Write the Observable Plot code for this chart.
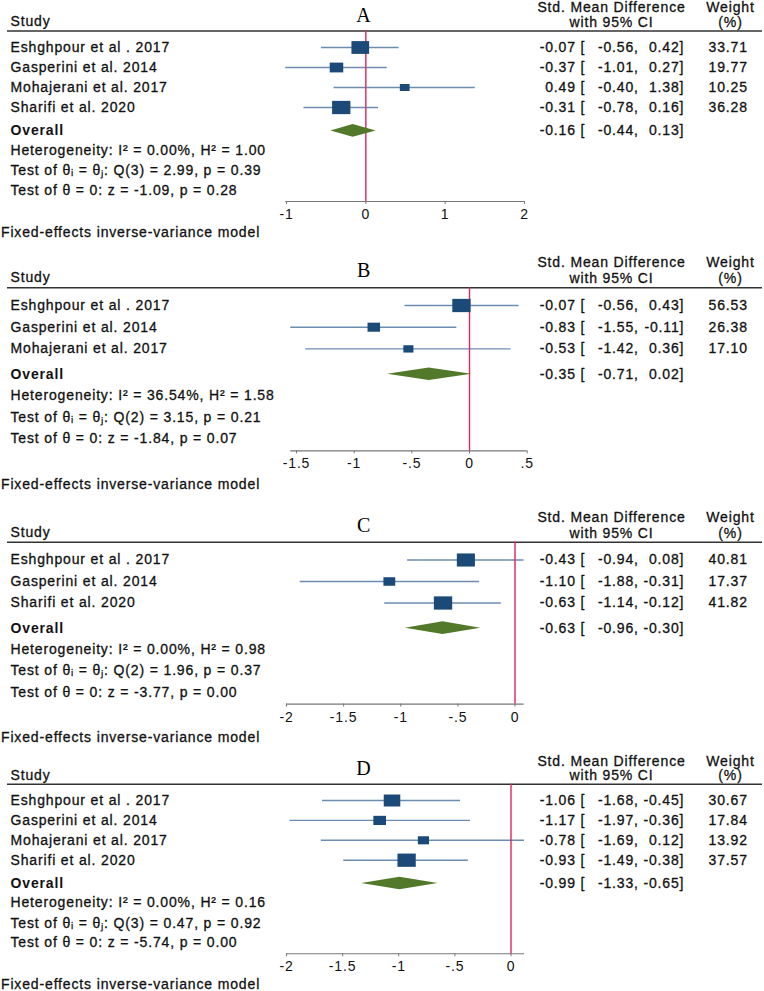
<!DOCTYPE html>
<html>
<head>
<meta charset="utf-8">
<script src="https://cdn.jsdelivr.net/npm/d3@7"></script>
<script src="https://cdn.jsdelivr.net/npm/@observablehq/plot@0.6"></script>
<style>
  body { margin: 0; background: #fff; }
  #chart { width: 764px; }
  #chart svg { display: block; }
</style>
</head>
<body>
<div id="chart"></div>
<script>
// ---------- Panel A ----------
const studiesA = ["Eshghpour et al . 2017", "Gasperini et al. 2014", "Mohajerani et al. 2017", "Sharifi et al. 2020"];
const smdA = [-0.07, -0.37, 0.49, -0.31];
const lowA = [-0.56, -1.01, -0.40, -0.78];
const highA = [0.42, 0.27, 1.38, 0.16];
const weightA = [33.71, 19.77, 10.25, 36.28];
const overallA = [-0.16, -0.44, 0.13];          // estimate, low, high
const hetA = [0.00, 1.00];                      // I2 (%), H2
const qTestA = [3, 2.99, 0.39];                 // df, Q, p
const zTestA = [-1.09, 0.28];                   // z, p
const ticksA = [-1, 0, 1, 2];
const tickLabelsA = ["-1", "0", "1", "2"];

// ---------- Panel B ----------
const studiesB = ["Eshghpour et al . 2017", "Gasperini et al. 2014", "Mohajerani et al. 2017"];
const smdB = [-0.07, -0.83, -0.53];
const lowB = [-0.56, -1.55, -1.42];
const highB = [0.43, -0.11, 0.36];
const weightB = [56.53, 26.38, 17.10];
const overallB = [-0.35, -0.71, 0.02];
const hetB = [36.54, 1.58];
const qTestB = [2, 3.15, 0.21];
const zTestB = [-1.84, 0.07];
const ticksB = [-1.5, -1, -0.5, 0, 0.5];
const tickLabelsB = ["-1.5", "-1", "-.5", "0", ".5"];

// ---------- Panel C ----------
const studiesC = ["Eshghpour et al . 2017", "Gasperini et al. 2014", "Sharifi et al. 2020"];
const smdC = [-0.43, -1.10, -0.63];
const lowC = [-0.94, -1.88, -1.14];
const highC = [0.08, -0.31, -0.12];
const weightC = [40.81, 17.37, 41.82];
const overallC = [-0.63, -0.96, -0.30];
const hetC = [0.00, 0.98];
const qTestC = [2, 1.96, 0.37];
const zTestC = [-3.77, 0.00];
const ticksC = [-2, -1.5, -1, -0.5, 0];
const tickLabelsC = ["-2", "-1.5", "-1", "-.5", "0"];

// ---------- Panel D ----------
const studiesD = ["Eshghpour et al . 2017", "Gasperini et al. 2014", "Mohajerani et al. 2017", "Sharifi et al. 2020"];
const smdD = [-1.06, -1.17, -0.78, -0.93];
const lowD = [-1.68, -1.97, -1.69, -1.49];
const highD = [-0.45, -0.36, 0.12, -0.38];
const weightD = [30.67, 17.84, 13.92, 37.57];
const overallD = [-0.99, -1.33, -0.65];
const hetD = [0.00, 0.16];
const qTestD = [3, 0.47, 0.92];
const zTestD = [-5.74, 0.00];
const ticksD = [-2, -1.5, -1, -0.5, 0];
const tickLabelsD = ["-2", "-1.5", "-1", "-.5", "0"];

const panelLetters = ["A", "B", "C", "D"];

// ---------- styling / layout ----------
const INK = "#111";
const NAVY = "#1b4a78";
const CI_BLUE = "#6d8db0";
const GREEN = "#52792a";
const RED = "#e0245e";
const FONT = "'Liberation Sans', Arial, Helvetica, sans-serif";
const TXT = {fill: INK, stroke: INK, strokeWidth: 0.3};

// marker: filled rectangle, slightly wider than tall, area from the r scale
const markerRect = {
  draw(context, size) {
    const aspect = 1.38;
    const h = Math.sqrt(size / aspect);
    const w = h * aspect;
    context.rect(-w / 2, -h / 2, w, h);
  }
};

const fmt = (v) => v.toFixed(2);

function forest(p) {
  const n = p.names.length;
  const rows = p.names.map((name, i) => ({name, est: p.est[i], lo: p.lo[i], hi: p.hi[i], w: p.weight[i], row: i}));
  const oRow = n + 0.17;
  const lineRow = -0.82;
  const axisRow = n + 3.7;
  const axisPx = p.rowTop + axisRow * p.step;
  const half = 6.3 / p.step;
  const [oEst, oLo, oHi] = p.overall;
  const diamond = [
    {x: oLo, y1: oRow, y2: oRow},
    {x: oEst, y1: oRow - half, y2: oRow + half},
    {x: oHi, y1: oRow, y2: oRow}
  ];
  const ciRows = [...rows, {est: oEst, lo: oLo, hi: oHi, row: oRow}];
  const xMin = Math.min(p.ticks[0], d3.min(p.lo));
  const xMax = Math.max(p.ticks[p.ticks.length - 1], d3.max(p.hi));
  const info = [
    {row: n + 1.15, t: `Heterogeneity: I² = ${fmt(p.het[0])}%, H² = ${fmt(p.het[1])}`},
    {row: n + 2.16, t: `Test of θᵢ = θⱼ: Q(${p.q[0]}) = ${fmt(p.q[1])}, p = ${fmt(p.q[2])}`},
    {row: n + 3.15, t: `Test of θ = 0: z = ${fmt(p.z[0])}, p = ${fmt(p.z[1])}`}
  ];
  const head = [{row: -1.98}, {row: -1.24}];

  return Plot.plot({
    width: 764,
    height: p.h,
    marginTop: 0,
    marginRight: 0,
    marginLeft: 0,
    marginBottom: p.h - axisPx,
    style: {fontFamily: FONT, fontSize: "14px", letterSpacing: "0.85px", color: INK, background: "#fff", overflow: "visible"},
    x: {domain: [p.ticks[0], p.ticks[p.ticks.length - 1]], range: p.xRange},
    y: {type: "linear", domain: [0, 1], range: [p.rowTop, p.rowTop + p.step], axis: null},
    r: {type: "sqrt", domain: [0, d3.max(p.weight)], range: [0, 8.8]},
    marks: [
      // header rule
      Plot.ruleY([lineRow], {stroke: "#333", strokeWidth: 1.5, insetLeft: 7, insetRight: 2}),
      // header texts
      Plot.text([{row: -1.28}], {y: "row", text: () => "Study", frameAnchor: "left", textAnchor: "start", dx: 10, ...TXT}),
      Plot.text([{row: -1.6}], {y: "row", text: () => p.letter, frameAnchor: "left", textAnchor: "middle", dx: 363.5,
        fontFamily: "'Liberation Serif', 'Times New Roman', serif", fontSize: 20, fill: "#000"}),
      Plot.text(head, {y: "row", text: (d, i) => ["Std. Mean Difference", "with 95% CI"][i], frameAnchor: "right", textAnchor: "middle", dx: -153, ...TXT}),
      Plot.text(head, {y: "row", text: (d, i) => ["Weight", "(%)"][i], frameAnchor: "right", textAnchor: "middle", dx: -34, ...TXT}),
      // study names & summary texts
      Plot.text(rows, {y: "row", text: "name", frameAnchor: "left", textAnchor: "start", dx: 10, ...TXT}),
      Plot.text([{row: oRow}], {y: "row", text: () => "Overall", frameAnchor: "left", textAnchor: "start", dx: 10, fontWeight: "bold", fill: INK}),
      Plot.text(info, {y: "row", text: "t", frameAnchor: "left", textAnchor: "start", dx: 10, ...TXT}),
      Plot.text([{row: n + 5.27}], {y: "row", text: () => "Fixed-effects inverse-variance model", frameAnchor: "left", textAnchor: "start", dx: 0.5, ...TXT}),
      // right-hand columns
      Plot.text(ciRows, {y: "row", text: (d) => `${fmt(d.est)} [`, frameAnchor: "right", textAnchor: "end", dx: -179.2, ...TXT}),
      Plot.text(ciRows, {y: "row", text: (d) => `${fmt(d.lo)},`, frameAnchor: "right", textAnchor: "end", dx: -125.7, ...TXT}),
      Plot.text(ciRows, {y: "row", text: (d) => `${fmt(d.hi)}]`, frameAnchor: "right", textAnchor: "end", dx: -80.2, ...TXT}),
      Plot.text(rows, {y: "row", text: (d) => fmt(d.w), frameAnchor: "right", textAnchor: "end", dx: -16.7, ...TXT}),
      // axis
      Plot.ruleY([{row: axisRow}], {y: "row", x1: xMin, x2: xMax, stroke: "#777", strokeWidth: 1.2}),
      Plot.axisX({ticks: p.ticks, tickFormat: (d) => p.tickLabels[p.ticks.indexOf(d)], tickSize: 3, tickPadding: 4.5,
        stroke: "#777", fill: INK, label: null, anchor: "bottom"}),
      // confidence intervals
      Plot.ruleY(rows, {y: "row", x1: "lo", x2: "hi", stroke: CI_BLUE, strokeWidth: 1.4}),
      // no-effect line
      Plot.ruleX([0], {y1: lineRow, y2: axisRow, stroke: RED, strokeWidth: 1.4}),
      // study markers
      Plot.dot(rows, {x: "est", y: "row", r: "w", symbol: markerRect, fill: NAVY, stroke: "none"}),
      // overall diamond
      Plot.areaY(diamond, {x: "x", y1: "y1", y2: "y2", fill: GREEN})
    ]
  });
}

const panels = [
  {letter: panelLetters[0], names: studiesA, est: smdA, lo: lowA, hi: highA, weight: weightA, overall: overallA,
   het: hetA, q: qTestA, z: zTestA, ticks: ticksA, tickLabels: tickLabelsA,
   h: 240, rowTop: 47, step: 20, xRange: [286, 524]},
  {letter: panelLetters[1], names: studiesB, est: smdB, lo: lowB, hi: highB, weight: weightB, overall: overallB,
   het: hetB, q: qTestB, z: zTestB, ticks: ticksB, tickLabels: tickLabelsB,
   h: 250, rowTop: 65, step: 21.7, xRange: [296, 526.7]},
  {letter: panelLetters[2], names: studiesC, est: smdC, lo: lowC, hi: highC, weight: weightC, overall: overallC,
   het: hetC, q: qTestC, z: zTestC, ticks: ticksC, tickLabels: tickLabelsC,
   h: 250, rowTop: 69.5, step: 21.5, xRange: [286, 514.5]},
  {letter: panelLetters[3], names: studiesD, est: smdD, lo: lowD, hi: highD, weight: weightD, overall: overallD,
   het: hetD, q: qTestD, z: zTestD, ticks: ticksD, tickLabels: tickLabelsD,
   h: 251, rowTop: 60, step: 19.9, xRange: [286, 510.5]}
];

const chart = document.getElementById("chart");
for (const p of panels) chart.appendChild(forest(p));
</script>
</body>
</html>
